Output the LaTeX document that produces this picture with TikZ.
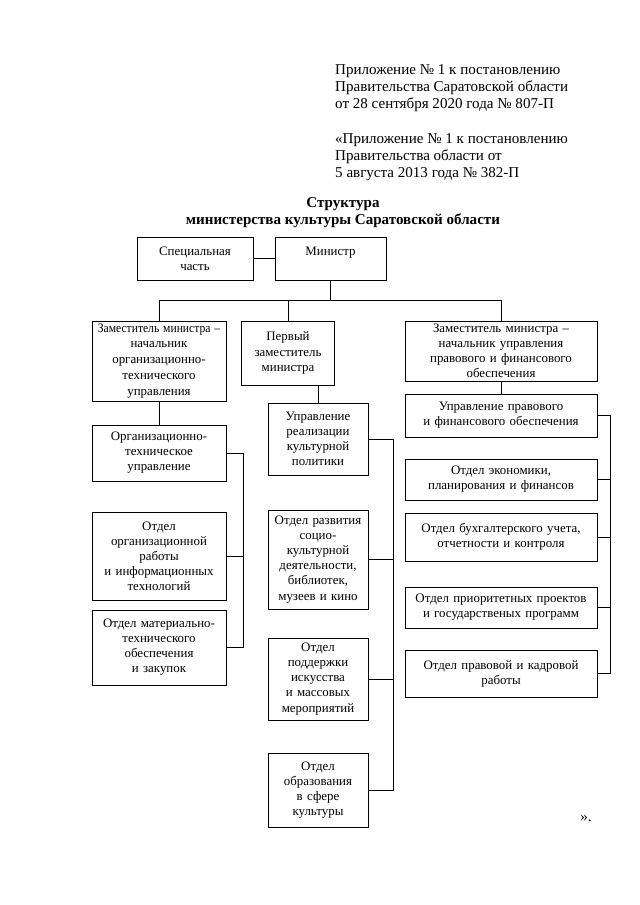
\documentclass[tikz,border=0pt]{standalone}
\usepackage{fontspec}
\usepackage{graphicx}
\setmainfont{Liberation Serif}
\usetikzlibrary{positioning}

\begin{document}
\begin{tikzpicture}[
    x=0.93pt, y=-0.93pt,
    box/.style={rectangle, draw=black, line width=0.6pt, inner sep=2pt,
                font=\fontsize{12}{14}\selectfont, align=center},
    lcol/.style={box, minimum width=124.6pt, text width=120pt},
    mcol/.style={box, minimum width=93pt, text width=89pt},
    rcol/.style={box, minimum width=178.6pt, text width=174pt},
    hdr/.style={anchor=north west, inner sep=0pt, align=left,
                font=\fontsize{14}{15.8}\selectfont},
    link/.style={line width=0.6pt}
  ]
    \useasboundingbox (0,0) rectangle (640,905);

    % header
    \node[hdr] (app) at (335,64) {Приложение № 1 к постановлению\\Правительства Саратовской области\\от 28 сентября 2020 года № 807-П};
    \node[hdr] (appold) at (335,133) {«Приложение № 1 к постановлению\\Правительства области от\\5 августа 2013 года № 382-П};
    \node[align=center, font=\fontsize{14}{15.8}\selectfont\bfseries] (title) at (343,213) {Структура\\министерства культуры Саратовской области};

    % top level
    \node[box, minimum width=108pt, text width=104pt, minimum height=40pt] (spec) at (195,258.5) {Специальная\\часть};
    \node[box, minimum width=103pt, text width=99pt, minimum height=40pt] (mnstr) at (330.5,258.5) {Министр\\\mbox{}};

    % deputies
    \node[lcol, minimum height=74.4pt, font=\fontsize{12}{14.8}\selectfont] (zam1) at (159,361) {\scalebox{0.9}[1]{Заместитель министра –}\\начальник\\организационно-\\технического\\управления};
    \node[box, minimum width=85.6pt, text width=82pt, minimum height=59.5pt] (perv) at (288,353) {Первый\\заместитель\\министра};
    \node[rcol, minimum height=55.8pt] (zam3) at (501,351) {Заместитель министра –\\начальник  управления\\правового и финансового\\обеспечения};

    % left column
    \node[lcol, minimum height=52pt] (ot_upr) at (159,453) {Организационно-\\техническое\\управление};
    \node[lcol, minimum height=81.8pt] (ot_org) at (159,556) {Отдел\\организационной\\работы\\и информационных\\технологий};
    \node[lcol, minimum height=69.8pt] (ot_mat) at (159,647.5) {Отдел материально-\\технического\\обеспечения\\и закупок};

    % middle column
    \node[mcol, minimum height=67pt] (upr_real) at (318,439) {Управление\\реализации\\культурной\\политики};
    \node[mcol, minimum height=92pt] (ot_razv) at (318,559.5) {Отдел развития\\социо-\\культурной\\деятельности,\\библиотек,\\музеев и кино};
    \node[mcol, minimum height=76.3pt] (ot_podd) at (318,679) {Отдел\\поддержки\\искусства\\и массовых\\мероприятий};
    \node[mcol, minimum height=68.8pt] (ot_obr) at (318,790) {Отдел\\образования\\в сфере\\культуры};

    % right column
    \node[rcol, minimum height=40pt] (upr_prav) at (501,415.5) {Управление правового\\и финансового обеспечения};
    \node[rcol, minimum height=38pt] (ot_econ) at (501,479.5) {Отдел экономики,\\планирования и финансов};
    \node[rcol, minimum height=44.6pt] (ot_buh) at (501,537) {Отдел бухгалтерского учета,\\отчетности  и контроля};
    \node[rcol, minimum height=38pt] (ot_prior) at (501,607.5) {Отдел приоритетных проектов\\и государственых программ};
    \node[rcol, minimum height=43.7pt] (ot_kadr) at (501,673.5) {Отдел правовой и кадровой\\работы};

    \node[font=\fontsize{14}{15.8}\selectfont] (close) at (586,818) {».};

    % buses
    \coordinate (topbar) at (0,300);
    \coordinate (lbus) at (243,0);
    \coordinate (mbus) at (393,0);
    \coordinate (rbus) at (610,0);

    \draw[link] (spec) -- (mnstr);
    \draw[link] (mnstr.south) -- (mnstr.south |- topbar);
    \draw[link] (zam1.north) -- (zam1.north |- topbar) -- (zam3.north |- topbar) -- (zam3.north);
    \draw[link] (perv.north) -- (perv.north |- topbar);

    \draw[link] (zam1) -- (ot_upr);
    \draw[link] (upr_real.north) -- (upr_real.north |- perv.south);
    \draw[link] (zam3) -- (upr_prav);

    \draw[link] (ot_upr.east) -- (ot_upr.east -| lbus) -- (ot_mat.east -| lbus) -- (ot_mat.east);
    \draw[link] (ot_org.east) -- (ot_org.east -| lbus);

    \draw[link] (upr_real.east) -- (upr_real.east -| mbus) -- (ot_obr.east -| mbus) -- (ot_obr.east);
    \draw[link] (ot_razv.east) -- (ot_razv.east -| mbus);
    \draw[link] (ot_podd.east) -- (ot_podd.east -| mbus);

    \draw[link] (upr_prav.east) -- (upr_prav.east -| rbus) -- (ot_kadr.east -| rbus) -- (ot_kadr.east);
    \draw[link] (ot_econ.east) -- (ot_econ.east -| rbus);
    \draw[link] (ot_buh.east) -- (ot_buh.east -| rbus);
    \draw[link] (ot_prior.east) -- (ot_prior.east -| rbus);
  \end{tikzpicture}
\end{document}
